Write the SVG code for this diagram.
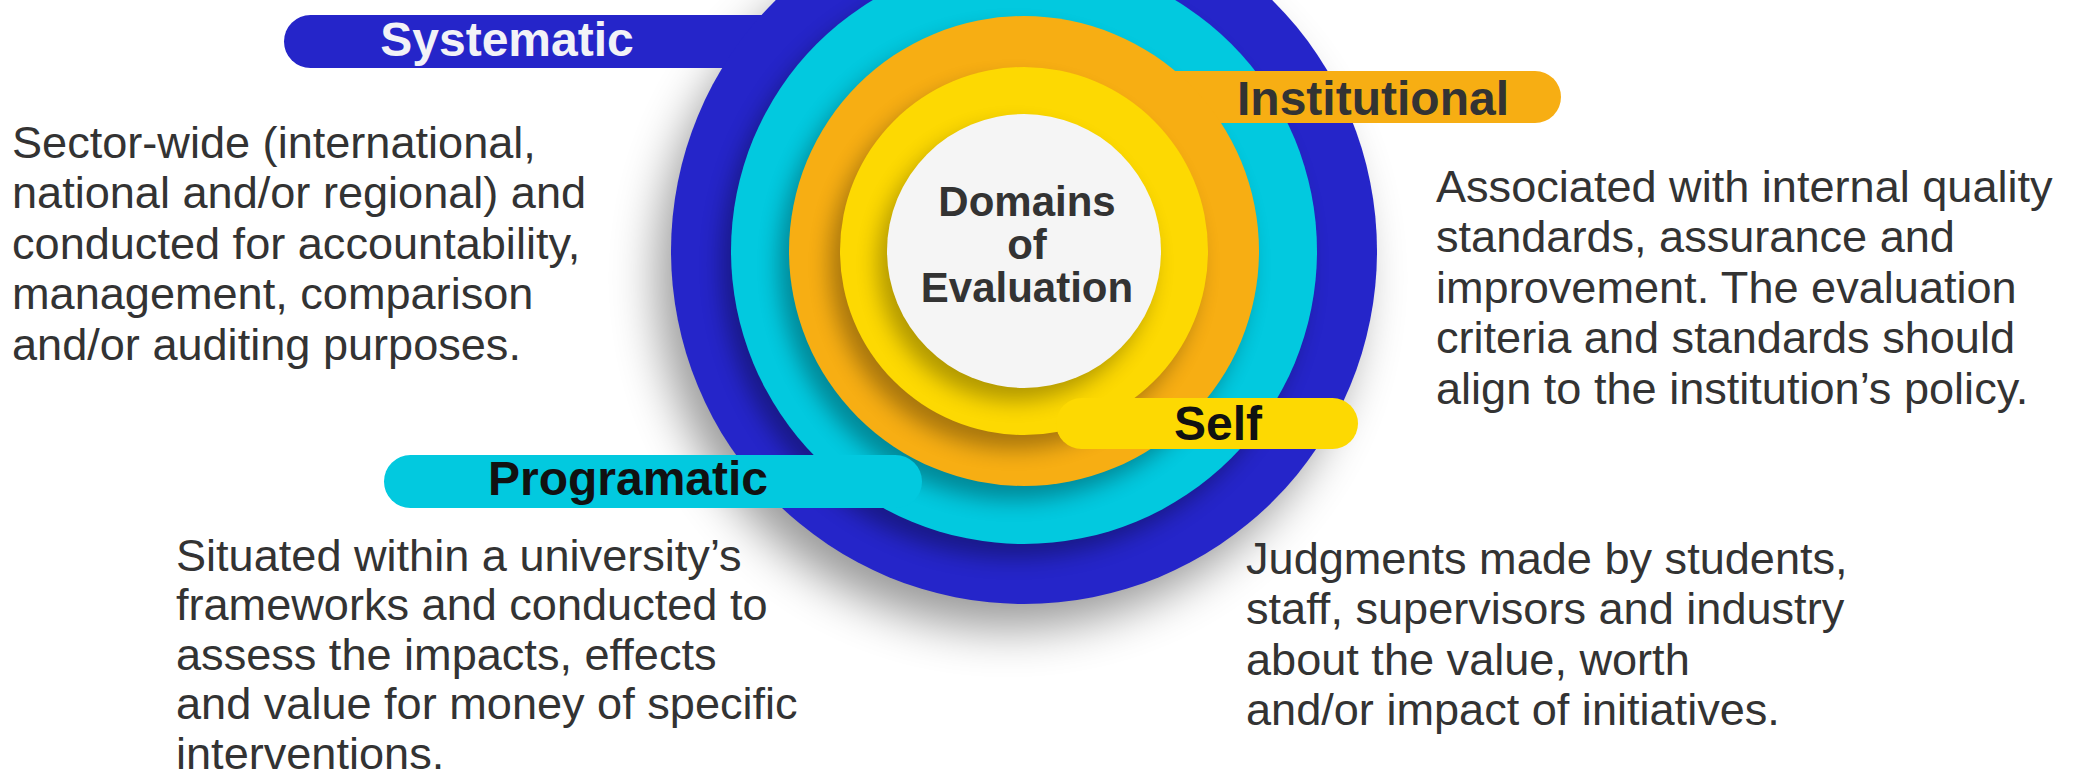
<svg xmlns="http://www.w3.org/2000/svg" width="2088" height="779" viewBox="0 0 2088 779">
<style>
.lbl{font-family:"Liberation Sans",Arial,sans-serif;font-weight:bold;font-size:48px;text-anchor:middle}
.body{font-family:"Liberation Sans",Arial,sans-serif;font-size:44px;fill:#333333}
.ctr{font-family:"Liberation Sans",Arial,sans-serif;font-weight:bold;font-size:42px;fill:#333333;text-anchor:middle}
</style>
<defs>
<filter id="bigShadow" x="-40%" y="-40%" width="180%" height="180%"><feGaussianBlur stdDeviation="24"/></filter>
<filter id="ringShadow" x="-30%" y="-30%" width="160%" height="160%"><feGaussianBlur stdDeviation="11"/></filter>
<clipPath id="clipBlue"><circle cx="1024" cy="251" r="353"/></clipPath>
<clipPath id="clipCyan"><circle cx="1024" cy="251" r="293"/></clipPath>
<clipPath id="clipOrange"><circle cx="1024" cy="251" r="235"/></clipPath>
<clipPath id="clipYellow"><circle cx="1024" cy="251" r="184"/></clipPath>
</defs>
<rect width="2088" height="779" fill="#ffffff"/>

<g id="rings">
  <circle cx="1008" cy="278" r="350" fill="#000" opacity="0.4" filter="url(#bigShadow)"/>
  <rect x="284" y="15" width="600" height="53" rx="26.5" fill="#2525c9"/>
  <circle cx="1024" cy="251" r="353" fill="#2525c9"/>
  <g clip-path="url(#clipBlue)">
    <circle cx="1014" cy="265" r="293" fill="#000" opacity="0.32" filter="url(#ringShadow)"/>
  </g>
  <circle cx="1024" cy="251" r="293" fill="#02c9df"/>
  <g clip-path="url(#clipCyan)">
    <circle cx="1014" cy="265" r="235" fill="#000" opacity="0.32" filter="url(#ringShadow)"/>
  </g>
  <rect x="1150" y="71" width="411" height="52" rx="26" fill="#f7ae13"/>
  <circle cx="1024" cy="251" r="235" fill="#f7ae13"/>
  <g clip-path="url(#clipOrange)">
    <circle cx="1014" cy="265" r="184" fill="#000" opacity="0.32" filter="url(#ringShadow)"/>
  </g>
  <circle cx="1024" cy="251" r="184" fill="#fdd902"/>
  <g clip-path="url(#clipYellow)">
    <circle cx="1015" cy="264" r="137" fill="#000" opacity="0.3" filter="url(#ringShadow)"/>
  </g>
</g>

<g id="center">
  <circle cx="1024" cy="251" r="137" fill="#f5f5f5"/>
  <text class="ctr" x="1027" y="216">Domains</text>
  <text class="ctr" x="1027" y="259">of</text>
  <text class="ctr" x="1027" y="302">Evaluation</text>
</g>

<g id="systematic">
  <text class="lbl" x="507" y="56" fill="#f2f2f7">Systematic</text>
  <text class="body" transform="translate(12,0) scale(1.025,1)">
    <tspan x="0" y="158">Sector-wide (international,</tspan>
    <tspan x="0" y="208.5">national and/or regional) and</tspan>
    <tspan x="0" y="259">conducted for accountability,</tspan>
    <tspan x="0" y="309.5">management, comparison</tspan>
    <tspan x="0" y="360">and/or auditing purposes.</tspan>
  </text>
</g>

<g id="institutional">
  <text class="lbl" x="1373" y="115" fill="#333333">Institutional</text>
  <text class="body" transform="translate(1436,0) scale(1.025,1)">
    <tspan x="0" y="202">Associated with internal quality</tspan>
    <tspan x="0" y="252.5">standards, assurance and</tspan>
    <tspan x="0" y="303">improvement. The evaluation</tspan>
    <tspan x="0" y="353.5">criteria and standards should</tspan>
    <tspan x="0" y="404">align to the institution’s policy.</tspan>
  </text>
</g>

<g id="self">
  <rect x="1056" y="398" width="302" height="51" rx="25.5" fill="#fdd902"/>
  <text class="lbl" x="1218" y="440" fill="#111111">Self</text>
  <text class="body" transform="translate(1246,0) scale(1.025,1)">
    <tspan x="0" y="574">Judgments made by students,</tspan>
    <tspan x="0" y="624.5">staff, supervisors and industry</tspan>
    <tspan x="0" y="675">about the value, worth</tspan>
    <tspan x="0" y="725.5">and/or impact of initiatives.</tspan>
  </text>
</g>

<g id="programatic">
  <rect x="384" y="455" width="538" height="53" rx="26.5" fill="#02c9df"/>
  <text class="lbl" x="628" y="495" fill="#111111">Programatic</text>
  <text class="body" transform="translate(176,0) scale(1.025,1)">
    <tspan x="0" y="571">Situated within a university’s</tspan>
    <tspan x="0" y="620.5">frameworks and conducted to</tspan>
    <tspan x="0" y="670">assess the impacts, effects</tspan>
    <tspan x="0" y="719.5">and value for money of specific</tspan>
    <tspan x="0" y="769">interventions.</tspan>
  </text>
</g>

<g id="connectors"/>
</svg>
